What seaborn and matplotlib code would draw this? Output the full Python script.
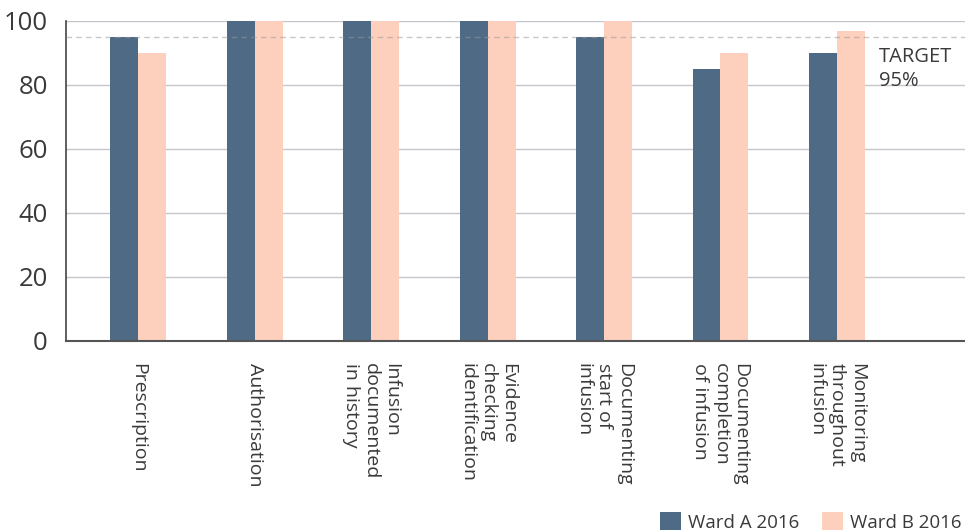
import matplotlib
matplotlib.use("Agg")
import matplotlib.pyplot as plt
import seaborn as sns
import pandas as pd
from matplotlib.patches import Patch

# Audit results by standard, percent compliance
categories = [
    "Prescription",
    "Authorisation",
    "Infusion\ndocumented\nin history",
    "Evidence\nchecking\nidentification",
    "Documenting\nstart of\ninfusion",
    "Documenting\ncompletion\nof infusion",
    "Monitoring\nthroughout\ninfusion",
]
ward_a = [95, 100, 100, 100, 95, 85, 90]
ward_b = [90, 100, 100, 100, 100, 90, 97]
series_names = ["Ward A 2016", "Ward B 2016"]
target = 95
y_ticks = [0, 20, 40, 60, 80, 100]

colors = ["#4e6a85", "#fcd0bd"]
text_color = "#3a3a3a"

df = pd.DataFrame({
    "category": categories * 2,
    "value": ward_a + ward_b,
    "ward": [series_names[0]] * len(categories) + [series_names[1]] * len(categories),
})

sns.set_theme(style="white")
plt.rcParams["font.family"] = ["Open Sans", "DejaVu Sans"]

fig = plt.figure(figsize=(9.65, 5.31), dpi=100)
ax = fig.add_axes([66 / 965, 1 - 341 / 531, 1 - 66 / 965, (341 - 21) / 531])

sns.barplot(data=df, x="category", y="value", hue="ward", palette=colors,
            width=0.48, gap=0, saturation=1, legend=False, ax=ax, zorder=2,
            linewidth=0, edgecolor="none")

ax.set_ylim(0, 100)
ax.set_xlim(-0.62, 7.1)
ax.set_yticks(y_ticks)
ax.yaxis.grid(True, color="#c6c6cc", linewidth=1.0, zorder=0)
ax.set_axisbelow(True)
ax.set_xlabel("")
ax.set_ylabel("")

# Target reference line
ax.axhline(target, color="#9a9a9a", linestyle=(0, (4, 3)), linewidth=1.0,
           alpha=0.55, zorder=3)
ax.text(6.36, target - 3.0, "TARGET\n95%", fontsize=14.5, color=text_color,
        ha="left", va="top", linespacing=1.3)

for s in ["top", "right"]:
    ax.spines[s].set_visible(False)
ax.spines["left"].set_color("#444444")
ax.spines["left"].set_linewidth(1.2)
ax.spines["bottom"].set_color("#555555")
ax.spines["bottom"].set_linewidth(1.5)

ax.tick_params(axis="y", length=0, pad=13, labelsize=18.5, labelcolor=text_color)
ax.tick_params(axis="x", length=0, pad=16)
ax.set_xticks(range(len(categories)))
ax.set_xticklabels(categories, rotation=-90, ha="center", va="top",
                   fontsize=14, color=text_color, linespacing=1.15,
                   multialignment="left")

handles = [Patch(facecolor=c, edgecolor="none", label=n) for c, n in zip(colors, series_names)]
fig.legend(handles=handles, loc="lower right", bbox_to_anchor=(1.014, -0.033),
           ncol=2, frameon=False, fontsize=13.5, handlelength=1.1, handleheight=1.1,
           handletextpad=0.4, columnspacing=1.2, labelcolor=text_color)

fig.savefig("out.png", dpi=100)
